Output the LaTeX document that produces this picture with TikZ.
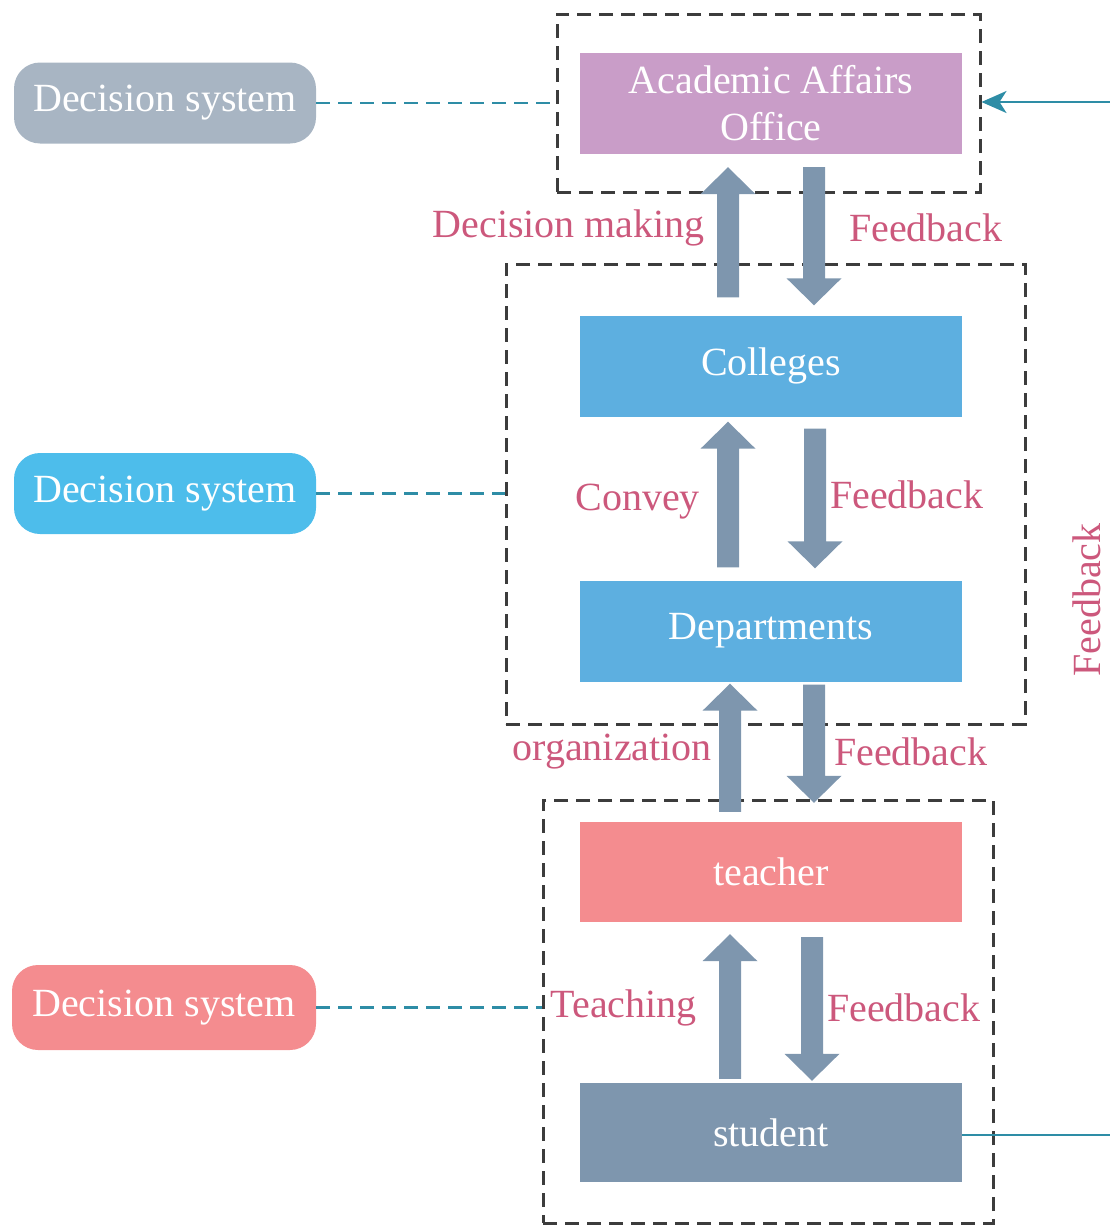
\documentclass[tikz,border=0pt]{standalone}
\usepackage{fontspec}
\setmainfont{Liberation Serif}
\usetikzlibrary{arrows.meta,calc}

\definecolor{officec}{RGB}{201,157,200}
\definecolor{unitc}{RGB}{93,175,224}
\definecolor{teachc}{RGB}{244,140,143}
\definecolor{studc}{RGB}{126,150,174}
\definecolor{pillgray}{RGB}{168,181,195}
\definecolor{pillblue}{RGB}{77,189,235}
\definecolor{labelc}{RGB}{204,88,124}
\definecolor{linkc}{RGB}{46,141,166}
\definecolor{groupc}{RGB}{60,60,60}

\begin{document}
\begin{tikzpicture}[x=1pt,y=-1pt,
  font=\fontsize{40}{47}\selectfont,
  unitbox/.style={minimum width=382pt,minimum height=101pt,inner sep=0pt,
    text=white,align=center},
  pill/.style={rounded corners=26pt,minimum width=302pt,minimum height=81pt,
    inner sep=0pt,text=white},
  group/.style={draw=groupc,line width=3pt,dash pattern=on 14pt off 8pt,
    inner sep=0pt},
  % wide arrow: shaft 22pt, head 55pt wide and 27pt long
  blockarrow/.style={fill=studc,to path={
    let \p1=(\tikztostart), \p2=(\tikztotarget), \n1={sign(\y2-\y1)} in
    (\x1-11pt,\y1) -- (\x1-11pt,\y2-\n1*27pt) -- (\x1-27.5pt,\y2-\n1*27pt)
    -- (\x1,\y2) -- (\x1+27.5pt,\y2-\n1*27pt) -- (\x1+11pt,\y2-\n1*27pt)
    -- (\x1+11pt,\y1) -- cycle}},
  link/.style={draw=linkc,line width=2.8pt,dash pattern=on 14pt off 8pt},
  feed/.style={draw=linkc,line width=2.6pt},
  lbl/.style={text=labelc,inner sep=0pt}]
\useasboundingbox (0,0) rectangle (1110,1226);

% levels of the organisation
\node[unitbox,fill=officec] (aao) at (771,103.5) {Academic Affairs\\Office};
\node[unitbox,fill=unitc] (colleges) at (771,366) {Colleges};
\node[unitbox,fill=unitc] (depts) at (771,631) {Departments};
\node[unitbox,fill=teachc,minimum height=100pt] (teacher) at (771,872) {teacher};
\node[unitbox,fill=studc,minimum height=99pt] (student) at (771,1132.5) {student};

% dashed groupings
\node[group,minimum width=423pt,minimum height=178pt] (gtop) at (768.5,103) {};
\node[group,minimum width=519pt,minimum height=460pt] (gmid) at (765.5,494) {};
\node[group,minimum width=450pt,minimum height=423pt] (gbot) at (768,1011.5) {};

% decision system tags
\node[pill,fill=pillgray] (ptop) at (165,103) {Decision system};
\node[pill,fill=pillblue] (pmid) at (165,493.5) {Decision system};
\node[pill,fill=teachc,minimum width=304pt,minimum height=85pt] (pbot) at (164,1007.5) {Decision system};

\draw[link] (ptop.east) -- (ptop.east -| gtop.west);
\draw[link] (pmid.east) -- (pmid.east -| gmid.west);
\draw[link] (pbot.east) -- (pbot.east -| gbot.west);

% block arrows between levels
\path[blockarrow] ([xshift=-43pt,yshift=18pt]colleges.north) to ([xshift=-43pt,yshift=-13pt]aao.south);
\path[blockarrow] ([xshift=43pt,yshift=-13pt]aao.south) to ([xshift=43pt,yshift=10pt]colleges.north);
\path[blockarrow] ([xshift=-43pt,yshift=13pt]depts.north) to ([xshift=-43pt,yshift=-5pt]colleges.south);
\path[blockarrow] ([xshift=44pt,yshift=-12pt]colleges.south) to ([xshift=44pt,yshift=12pt]depts.north);
\path[blockarrow] ([xshift=-41pt,yshift=10pt]teacher.north) to ([xshift=-41pt,yshift=-2pt]depts.south);
\path[blockarrow] ([xshift=43pt,yshift=-3pt]depts.south) to ([xshift=43pt,yshift=19pt]teacher.north);
\path[blockarrow] ([xshift=-41pt,yshift=4pt]student.north) to ([xshift=-41pt,yshift=-12pt]teacher.south);
\path[blockarrow] ([xshift=41pt,yshift=-15pt]teacher.south) to ([xshift=41pt,yshift=2pt]student.north);

% arrow labels
\node[lbl,anchor=east] (l1) at (705,228) {Decision making};
\node[lbl,anchor=west] (r1) at (849,228) {Feedback};
\node[lbl,anchor=east] (l2) at (700,502) {Convey};
\node[lbl,anchor=west] (r2) at (830,495) {Feedback};
\node[lbl,anchor=east] (l3) at (712,752) {organization};
\node[lbl,anchor=west] (r3) at (834,752) {Feedback};
\node[lbl,anchor=east] (l4) at (697,1008) {Teaching};
\node[lbl,anchor=west] (r4) at (827,1008) {Feedback};
\node[lbl,rotate=90] (rloop) at (1087,600) {Feedback};

% outer feedback loop
\coordinate (loopin) at (1110,102);
\coordinate (loopout) at (1110,1135);
\draw[feed,-{Stealth[length=25pt,width=22pt,inset=7pt]}] (loopin) -- (loopin -| gtop.east);
\draw[feed] (student.east |- loopout) -- (loopout);
\end{tikzpicture}
\end{document}
